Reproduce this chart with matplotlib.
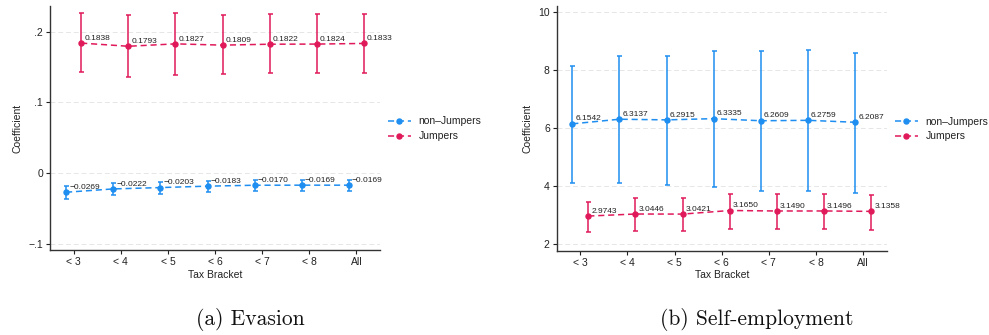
import matplotlib.pyplot as plt
import numpy as np

plt.rcParams['font.family'] = ['Liberation Sans', 'DejaVu Sans']

brackets = ['< 3', '< 4', '< 5', '< 6', '< 7', '< 8', 'All']

# Evasion: point estimates and 95% CI bounds
ev_non = [-0.0269, -0.0222, -0.0203, -0.0183, -0.0170, -0.0169, -0.0169]
ev_non_lo = [-0.0363, -0.0306, -0.0288, -0.0269, -0.0254, -0.0254, -0.0254]
ev_non_hi = [-0.0180, -0.0141, -0.0127, -0.0104, -0.0095, -0.0095, -0.0095]
ev_jmp = [0.1838, 0.1793, 0.1827, 0.1809, 0.1822, 0.1824, 0.1833]
ev_jmp_lo = [0.1427, 0.1356, 0.1393, 0.1398, 0.1412, 0.1412, 0.1417]
ev_jmp_hi = [0.2269, 0.2241, 0.2269, 0.2236, 0.2250, 0.2250, 0.2255]

# Self-employment
se_non = [6.1542, 6.3137, 6.2915, 6.3335, 6.2609, 6.2759, 6.2087]
se_non_lo = [4.11, 4.11, 4.06, 3.99, 3.83, 3.85, 3.78]
se_non_hi = [8.16, 8.48, 8.50, 8.65, 8.67, 8.69, 8.61]
se_jmp = [2.9743, 3.0446, 3.0421, 3.1650, 3.1490, 3.1496, 3.1358]
se_jmp_lo = [2.44, 2.46, 2.46, 2.54, 2.52, 2.52, 2.51]
se_jmp_hi = [3.46, 3.60, 3.60, 3.75, 3.74, 3.74, 3.71]

BLUE = '#1e8ef0'
RED = '#e01a5a'
TXT = '#222222'


def fmt(v):
    s = f'{v:.4f}'
    return s.replace('-', '\u2212')


def draw(ax, series, yticks, ytlabels, ylim):
    x = np.arange(1, len(brackets) + 1)
    for (est, lo, hi, col, name, off) in series:
        est = np.array(est)
        err = [est - np.array(lo), np.array(hi) - est]
        xs = x + off
        ax.errorbar(xs, est, yerr=err, fmt='none', ecolor=col, elinewidth=1.1,
                    capsize=1.8, capthick=1.1, zorder=3)
        ax.plot(xs, est, color=col, ls=(0, (4, 2.5)), lw=1.1, marker='o',
                ms=3.6, label=name, zorder=4)
        for xi, yi in zip(xs, est):
            ax.annotate(fmt(yi), (xi, yi), xytext=(2.2, 3.5), textcoords='offset points',
                        ha='left', va='center', fontsize=6, color=TXT, zorder=5)
    ax.set_xlim(0.5, 7.5)
    ax.set_ylim(*ylim)
    ax.set_xticks(x)
    ax.set_xticklabels(brackets)
    ax.set_yticks(yticks)
    ax.set_yticklabels(ytlabels)
    ax.set_xlabel('Tax Bracket', fontsize=7.5, color=TXT, labelpad=2)
    ax.set_ylabel('Coefficient', fontsize=7.5, color=TXT, labelpad=4)
    ax.tick_params(labelsize=7.5, colors=TXT, length=3, width=0.8, pad=2)
    for yt in yticks:
        ax.axhline(yt, color='#e6e6e6', lw=0.7, ls=(0, (5, 3)), zorder=1)
    for side in ('top', 'right'):
        ax.spines[side].set_visible(False)
    for side in ('left', 'bottom'):
        ax.spines[side].set_color('#333333')
        ax.spines[side].set_linewidth(1.0)
    handles, labels = ax.get_legend_handles_labels()
    order = [labels.index('non\u2013Jumpers'), labels.index('Jumpers')]
    ax.legend([handles[i] for i in order], [labels[i] for i in order],
              loc='center left', bbox_to_anchor=(1.024, 0.497), frameon=False,
              fontsize=7.5, handlelength=2.2, handletextpad=0.75, labelspacing=0.45,
              borderpad=0, borderaxespad=0, labelcolor=TXT)


fig = plt.figure(figsize=(9.89, 3.35), dpi=100)
ax1 = fig.add_axes([0.0506, 0.2537, 0.3337, 0.728])
ax2 = fig.add_axes([0.5629, 0.2517, 0.3337, 0.7305])

draw(ax1,
     [(ev_jmp, ev_jmp_lo, ev_jmp_hi, RED, 'Jumpers', 0.16),
      (ev_non, ev_non_lo, ev_non_hi, BLUE, 'non\u2013Jumpers', -0.16)],
     [-0.1, 0, 0.1, 0.2], ['\u2212.1', '0', '.1', '.2'], (-0.1085, 0.236))
draw(ax2,
     [(se_non, se_non_lo, se_non_hi, BLUE, 'non\u2013Jumpers', -0.17),
      (se_jmp, se_jmp_lo, se_jmp_hi, RED, 'Jumpers', 0.17)],
     [2, 4, 6, 8, 10], ['2', '4', '6', '8', '10'], (1.78, 10.22))

fig.text(0.253, 0.045, '(a) Evasion', family='cmr10', fontsize=15.5,
         ha='center', va='center', color='#111111')
fig.text(0.765, 0.045, '(b) Self-employment', family='cmr10', fontsize=15.5,
         ha='center', va='center', color='#111111')

fig.savefig('out.png', dpi=100)
